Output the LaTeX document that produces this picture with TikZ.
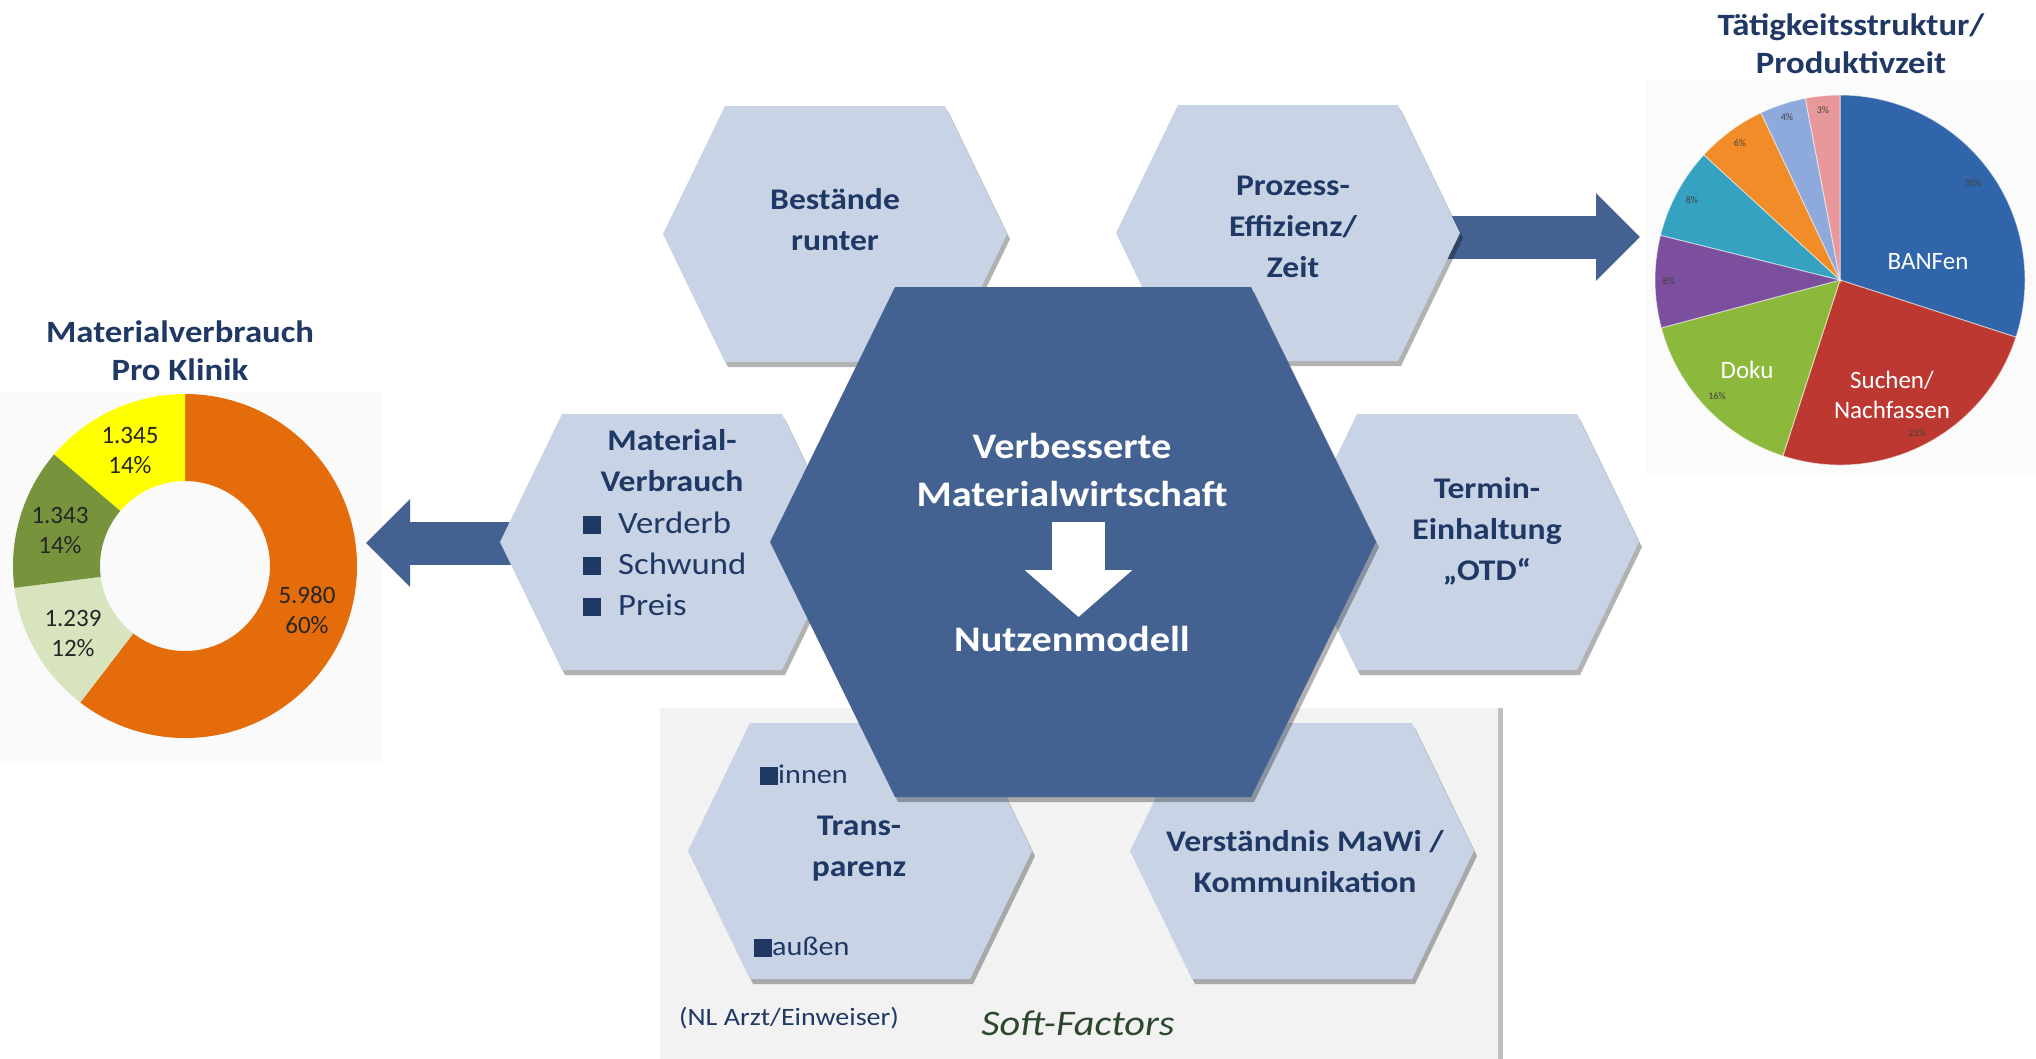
\documentclass[tikz,border=0pt]{standalone}
\usepackage{fontspec}
\setmainfont[FakeStretch=1.12]{Carlito}
\newfontfamily\plainfont{Carlito}
\usetikzlibrary{shadows,arrows.meta,calc}
\definecolor{hexlight}{RGB}{200,212,230}
\definecolor{hexdark}{RGB}{68,98,145}
\definecolor{navy}{RGB}{31,56,100}
\definecolor{softgreen}{RGB}{45,72,45}
\definecolor{dorange}{RGB}{228,108,10}
\definecolor{dlgreen}{RGB}{215,228,189}
\definecolor{ddgreen}{RGB}{119,147,60}
\definecolor{dyellow}{RGB}{255,255,0}
\definecolor{pblue}{RGB}{48,101,170}
\definecolor{pred}{RGB}{190,56,50}
\definecolor{pgreen}{RGB}{140,184,60}
\definecolor{ppurple}{RGB}{123,79,157}
\definecolor{pteal}{RGB}{53,162,193}
\definecolor{porange}{RGB}{242,140,40}
\definecolor{plblue}{RGB}{142,169,219}
\definecolor{ppink}{RGB}{232,152,154}
\tikzset{
  shad/.style={drop shadow={shadow xshift=3pt, shadow yshift=-5pt, opacity=0.3, fill=black}},
  hexfill/.style={fill=hexlight, shad},
  hextext/.style={text=navy, font=\fontsize{30}{41}\selectfont\bfseries, align=center, inner sep=0pt},
  bullettext/.style={text=navy, font=\fontsize{31}{41}\selectfont, align=left, inner sep=0pt},
  centtext/.style={text=white, font=\fontsize{36}{48}\selectfont\bfseries, align=center, inner sep=0pt},
  titletext/.style={text=navy, font=\fontsize{31}{38}\selectfont\bfseries, align=center, inner sep=0pt},
  dlabel/.style={text=black!85, font=\plainfont\fontsize{25}{30}\selectfont, align=center, inner sep=0pt},
  plabel/.style={text=white, font=\plainfont\fontsize{25}{30}\selectfont, align=center, inner sep=0pt},
  pct/.style={text=black!75, font=\plainfont\fontsize{10}{11}\selectfont, inner sep=0pt},
  blockarrow/.style={draw=hexdark, line width=43pt, -{Triangle[length=44pt,width=85pt]}, shad},
  pslice/.style={fill=#1, draw=white, draw opacity=0.5, line width=1pt},
}
\newcommand\lhex[2]{\path[hexfill] (#1-172,#2) -- ++(62,-128) -- ++(220,0) -- ++(62,128) -- ++(-62,128) -- ++(-220,0) -- cycle;}
\newcommand\bsq{\textcolor{navy}{\rule[-1pt]{18pt}{18pt}}}
\begin{document}
\begin{tikzpicture}[x=1pt,y=-1pt]
\useasboundingbox (0,0) rectangle (2036,1058);
\fill[white] (0,0) rectangle (2036,1058);
% chart backgrounds
\fill[black!2] (0,392) rectangle (383,763);
\fill[black!1.5] (1646,80) rectangle (2036,474);
% soft factors box
\path[fill=black!5, drop shadow={shadow xshift=5pt, shadow yshift=0pt, opacity=0.25, fill=black}] (660,708) rectangle (1498,1070);

% label nodes (positions for connectors)
\node[hextext] (proz) at (1293,227) {Prozess-\\Effizienz/\\Zeit};
\node[hextext] (matv) at (672,461) {Material-\\Verbrauch};
\coordinate (ptip) at (1640,237);
\coordinate (dtip) at (366,543);

% block arrows (behind hexagons)
\draw[blockarrow] (proz.east |- ptip) -- (ptip);
\draw[blockarrow] (matv.west |- dtip) -- (dtip);

% light hexagons
\lhex{835}{234}
\lhex{1288}{233}
\lhex{672}{542}
\lhex{1467}{542}
\lhex{860}{851}
\lhex{1302}{851}
% central hexagon
\path[fill=hexdark, shad] (770,542) -- ++(125,-255) -- ++(356,0) -- ++(125,255) -- ++(-125,255) -- ++(-356,0) -- cycle;

% texts in hexagons
\node[hextext] (best) at (835,220) {Bestände\\runter};
\node[hextext] at (proz) {Prozess-\\Effizienz/\\Zeit};
\node[hextext] at (matv) {Material-\\Verbrauch};
\node[bullettext, anchor=west] (bul) at (583,564) {\bsq\hspace{17pt}Verderb\\\bsq\hspace{17pt}Schwund\\\bsq\hspace{17pt}Preis};
\node[hextext] (term) at (1487,531) {Termin-\\Einhaltung\\„OTD“};
\node[hextext] (trans) at (859,849) {Trans-\\parenz};
\node[hextext] (vers) at (1305,862) {Verständnis MaWi /\\Kommunikation};
\node[bullettext, anchor=west, font=\fontsize{27}{32}\selectfont] (innen) at (760,775) {\bsq innen};
\node[bullettext, anchor=west, font=\fontsize{27}{32}\selectfont] (aussen) at (754,947) {\bsq außen};

% central text and arrow
\node[centtext] (verb) at (1072,470) {Verbesserte\\Materialwirtschaft};
\node[centtext] (nutz) at (1072,639) {Nutzenmodell};
\coordinate (ca) at (1078.5,522);
\coordinate (cb) at (1078.5,617);
\draw[white, line width=53pt, -{Triangle[length=47pt,width=105pt]}] (ca) -- (cb);

% soft factors texts
\node[text=navy, font=\fontsize{25}{30}\selectfont, inner sep=0pt] (nl) at (789,1018) {(NL Arzt/Einweiser)};
\node[text=softgreen, font=\fontsize{36}{40}\selectfont\itshape, inner sep=0pt] (soft) at (1078,1023) {Soft-Factors};

% donut chart
\node[titletext] (dtitle) at (180,351) {Materialverbrauch\\Pro Klinik};
\begin{scope}[shift={(185,566)}, y=1pt]
\newcommand\dslice[3]{\fill[#1] (#2:172pt) arc[start angle=#2, end angle=#3, radius=172pt] -- (#3:85pt) arc[start angle=#3, end angle=#2, radius=85pt] -- cycle;}
\dslice{dorange}{90}{-127.5}
\dslice{dlgreen}{-127.5}{-172.7}
\dslice{ddgreen}{-172.7}{-220.5}
\dslice{dyellow}{139.5}{90}
\end{scope}
\node[dlabel] (d1) at (130,450) {1.345\\14\%};
\node[dlabel] (d2) at (60,530) {1.343\\14\%};
\node[dlabel] (d3) at (73,633) {1.239\\12\%};
\node[dlabel] (d4) at (307,610) {5.980\\60\%};

% pie chart
\node[titletext] (ptitle) at (1851,44) {Tätigkeitsstruktur/\\Produktivzeit};
\begin{scope}[shift={(1840,280)}, y=1pt]
\newcommand\pcs[3]{\path[pslice=#1] (0,0) -- (#2:185pt) arc[start angle=#2, end angle=#3, radius=185pt] -- cycle;}
\pcs{pblue}{90}{-18}
\pcs{pred}{-18}{-108}
\pcs{pgreen}{-108}{-165}
\pcs{ppurple}{-165}{-194}
\pcs{pteal}{166}{137.4}
\pcs{porange}{137.4}{115.3}
\pcs{plblue}{115.3}{100.8}
\pcs{ppink}{100.8}{90}
\end{scope}
\node[plabel] (banf) at (1928,262) {BANFen};
\node[plabel] (such) at (1892,395) {Suchen/\\Nachfassen};
\node[plabel] (doku) at (1747,370) {Doku};
\node[pct] (p30) at (1973,183) {30\%};
\node[pct] (p23) at (1917,433) {23\%};
\node[pct] (p16) at (1717,396) {16\%};
\node[pct] (p8a) at (1669,281) {8\%};
\node[pct] (p8b) at (1692,200) {8\%};
\node[pct] (p6) at (1740,143) {6\%};
\node[pct] (p4) at (1787,117) {4\%};
\node[pct] (p3) at (1823,110) {3\%};
\end{tikzpicture}
\end{document}
